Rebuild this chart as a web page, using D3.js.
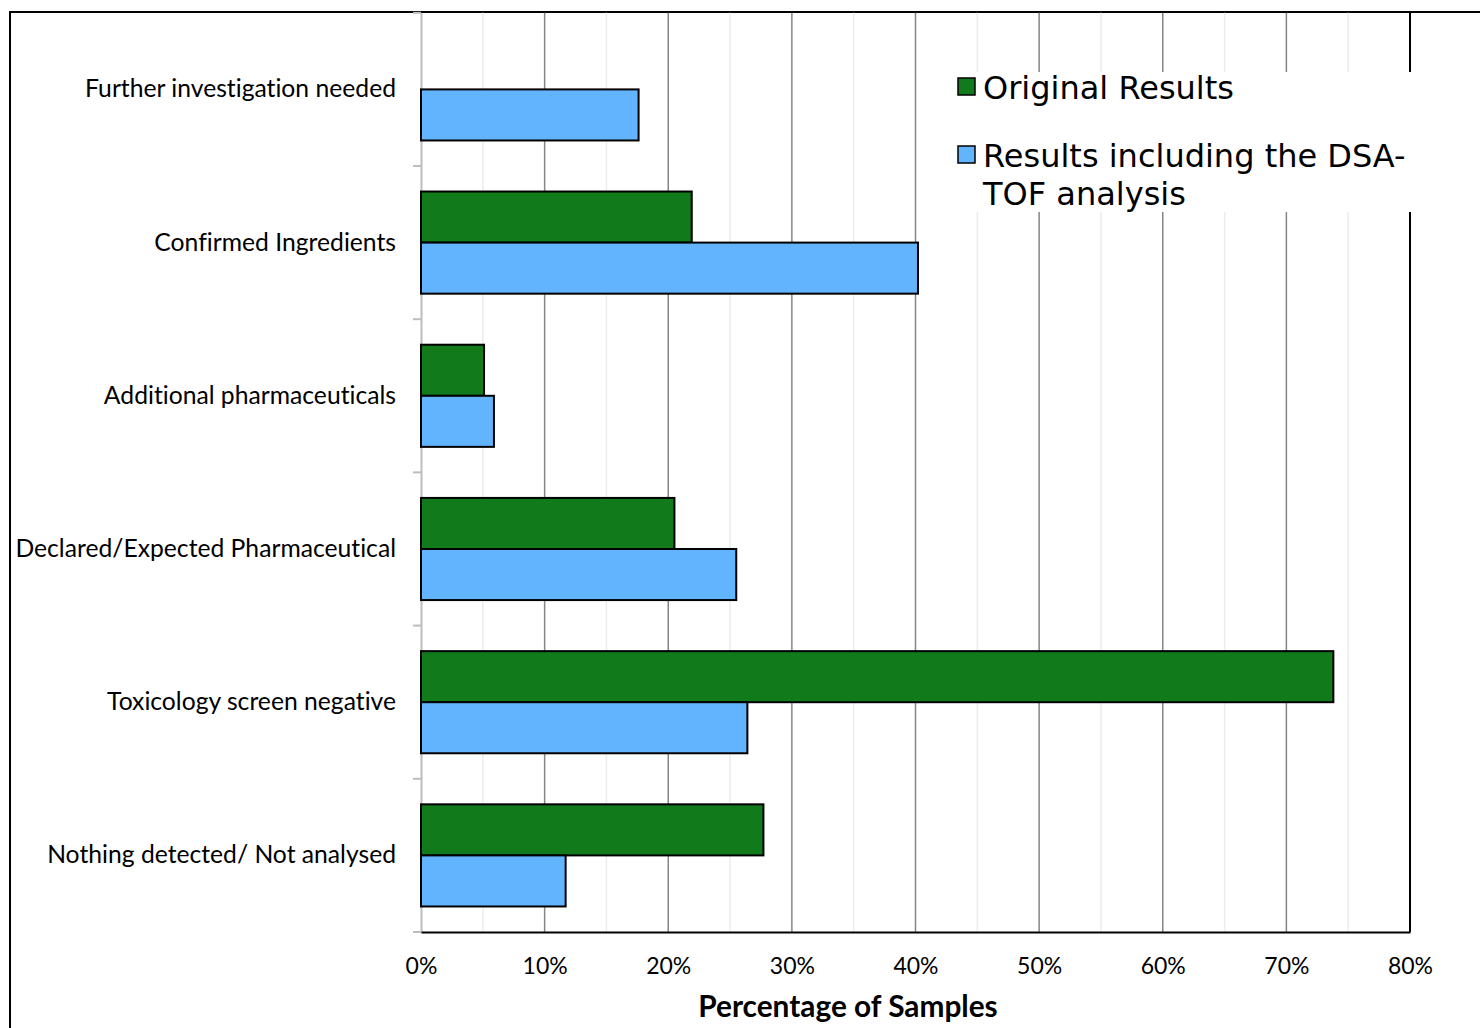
<!DOCTYPE html>
<html><head><meta charset="utf-8">
<script src="https://cdn.jsdelivr.net/npm/d3@7"></script>
<style>html,body{margin:0;padding:0;background:#fff;overflow:hidden} text{font-variant-ligatures:none;font-feature-settings:"liga" 0,"dlig" 0}</style>
</head><body>
<script>
const categories = ["Further investigation needed","Confirmed Ingredients","Additional pharmaceuticals","Declared/Expected Pharmaceutical","Toxicology screen negative","Nothing detected/ Not analysed"];
const seriesNames = ["Original Results","Results including the DSA-TOF analysis"];
const originalResults = [0, 21.9, 5.1, 20.5, 73.8, 27.7];
const dsaTofResults = [17.6, 40.2, 5.9, 25.5, 26.4, 11.7];
const xTicks = [0,10,20,30,40,50,60,70,80];
const colors = ["#117a1b", "#63b4fe"];

const W = 1480, H = 1028;
const svg = d3.select("body").append("svg").attr("width", W).attr("height", H);
const L = 421, R = 1410, T = 12.8, B = 932;
const x = d3.scaleLinear().domain([0,80]).range([L,R]);
const y = d3.scaleBand().domain(categories).range([T,B]).paddingInner(1/3).paddingOuter(1/6);
const ySub = d3.scaleBand().domain([0,1]).range([0, y.bandwidth()]);
const yCat = d3.scaleBand().domain(categories).range([T,B]);

// outer border
svg.append("rect").attr("x",10).attr("y",12).attr("width",1500).attr("height",1040)
  .attr("fill","none").attr("stroke","#000").attr("stroke-width",2);

// minor grid
svg.append("g").selectAll("line").data(d3.range(5,80,10)).join("line")
  .attr("x1",d=>x(d)).attr("x2",d=>x(d)).attr("y1",T).attr("y2",B)
  .attr("stroke","#ececec").attr("stroke-width",1.5);
// major grid
svg.append("g").selectAll("line").data(xTicks.filter(d=>d>0&&d<80)).join("line")
  .attr("x1",d=>x(d)).attr("x2",d=>x(d)).attr("y1",T).attr("y2",B)
  .attr("stroke","#858585").attr("stroke-width",1.5);
// right border
svg.append("line").attr("x1",R).attr("x2",R).attr("y1",12).attr("y2",B).attr("stroke","#000").attr("stroke-width",2);

// left axis
const yAxis = d3.axisLeft(yCat).tickSize(0).tickPadding(25);
const ga = svg.append("g").attr("transform",`translate(${L},0)`).call(yAxis);
ga.select(".domain").attr("stroke","#bdbdbd").attr("stroke-width",2);
ga.selectAll("text").attr("font-family","Lato, 'Open Sans', sans-serif").attr("font-size",24.7).attr("fill","#000");
// category boundary ticks
svg.append("g").selectAll("line").data(d3.range(0,categories.length+1)).join("line")
  .attr("x1",L-8).attr("x2",L).attr("y1",i=>T+i*yCat.step()).attr("y2",i=>T+i*yCat.step())
  .attr("stroke","#bdbdbd").attr("stroke-width",2);

// bars
const data = categories.map((c,i)=>({c, vals:[originalResults[i], dsaTofResults[i]]}));
const g = svg.append("g");
data.forEach(d=>{
  d.vals.forEach((v,k)=>{
    if (v<=0) return;
    g.append("rect").attr("x",x(0)).attr("y",y(d.c)+ySub(k))
      .attr("width",x(v)-x(0)).attr("height",ySub.bandwidth())
      .attr("fill",colors[k]).attr("stroke","#000").attr("stroke-width",2);
  });
});

// bottom axis
const xAxis = d3.axisBottom(x).tickValues(xTicks).tickFormat(d=>d+"%").tickSize(0).tickPadding(26);
const gx = svg.append("g").attr("transform",`translate(0,${B})`).call(xAxis);
gx.select(".domain").attr("stroke","#000").attr("stroke-width",2);
gx.selectAll("text").attr("font-family","Lato, 'Open Sans', sans-serif").attr("font-size",23).attr("fill","#000");

svg.append("text").attr("x",848).attr("y",1017).attr("text-anchor","middle")
  .attr("font-family","Lato, 'Open Sans', sans-serif").attr("font-weight","bold").attr("font-size",29.8)
  .text("Percentage of Samples");

// legend
const lg = svg.append("g");
lg.append("rect").attr("x",948).attr("y",72).attr("width",475).attr("height",140).attr("fill","#fff");
const legendLines = [["Original Results"],["Results including the DSA-","TOF analysis"]];
const legY = [99, 167];
legendLines.forEach((lines,k)=>{
  lg.append("rect").attr("x",958).attr("y",legY[k]-21).attr("width",17).attr("height",17)
    .attr("fill",colors[k]).attr("stroke","#000").attr("stroke-width",1.5);
  const t = lg.append("text").attr("x",983).attr("y",legY[k])
    .attr("font-family","'DejaVu Sans', Verdana, sans-serif").attr("font-size",32).attr("fill","#000");
  lines.forEach((ln,j)=>t.append("tspan").attr("x",983).attr("dy", j===0?0:38).text(ln));
});
</script>
</body></html>
